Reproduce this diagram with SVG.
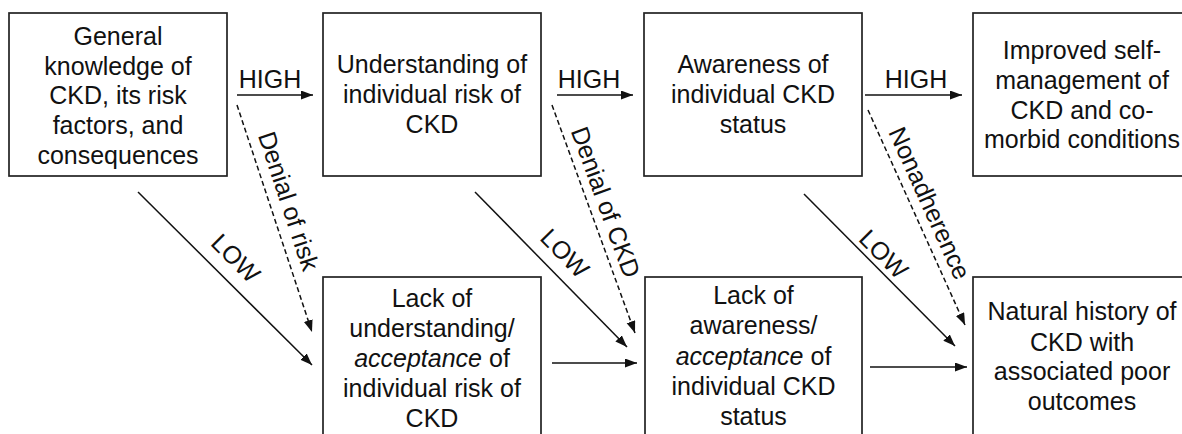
<svg xmlns="http://www.w3.org/2000/svg" width="1182" height="434" viewBox="0 0 1182 434">
<defs>
<marker id="ah" markerUnits="userSpaceOnUse" markerWidth="13" markerHeight="10" refX="12" refY="4.5" orient="auto">
<path d="M0,0 L12,4.5 L0,9 z" fill="#111"/>
</marker>
<style>
.box{fill:#fff;stroke:#222;stroke-width:1.7}
.t{font-family:"Liberation Sans",Arial,sans-serif;font-size:25px;fill:#111;text-anchor:middle}
.ln{stroke:#111;stroke-width:1.5;fill:none;marker-end:url(#ah)}
.dash{stroke-dasharray:5,3}
</style>
</defs>
<rect width="1182" height="434" fill="#fff"/>

<g id="n1">
<rect class="box" x="9" y="13" width="218" height="163"/>
<text class="t" x="118" y="45">General</text>
<text class="t" x="118" y="74.5">knowledge of</text>
<text class="t" x="118" y="104">CKD, its risk</text>
<text class="t" x="118" y="134">factors, and</text>
<text class="t" x="118" y="164">consequences</text>
</g>

<g id="n2">
<rect class="box" x="323" y="13" width="218" height="163"/>
<text class="t" x="432" y="73">Understanding of</text>
<text class="t" x="432" y="103">individual risk of</text>
<text class="t" x="432" y="133">CKD</text>
</g>

<g id="n3">
<rect class="box" x="644" y="13" width="218" height="163"/>
<text class="t" x="753" y="73">Awareness of</text>
<text class="t" x="753" y="103">individual CKD</text>
<text class="t" x="753" y="133">status</text>
</g>

<g id="n4">
<rect class="box" x="973" y="13" width="218" height="163"/>
<text class="t" x="1082" y="59">Improved self-</text>
<text class="t" x="1082" y="89">management of</text>
<text class="t" x="1082" y="118.5">CKD and co-</text>
<text class="t" x="1082" y="148">morbid conditions</text>
</g>

<g id="n5">
<rect class="box" x="323" y="277" width="218" height="170"/>
<text class="t" x="432" y="306.5">Lack of</text>
<text class="t" x="432" y="336.5">understanding/</text>
<text class="t" x="432" y="366.5"><tspan font-style="italic">acceptance</tspan> of</text>
<text class="t" x="432" y="396.5">individual risk of</text>
<text class="t" x="432" y="426.5">CKD</text>
</g>

<g id="n6">
<rect class="box" x="645" y="277" width="217" height="170"/>
<text class="t" x="753.5" y="304">Lack of</text>
<text class="t" x="753.5" y="334">awareness/</text>
<text class="t" x="753.5" y="364.5"><tspan font-style="italic">acceptance</tspan> of</text>
<text class="t" x="753.5" y="394.5">individual CKD</text>
<text class="t" x="753.5" y="425">status</text>
</g>

<g id="n7">
<rect class="box" x="973" y="277" width="218" height="170"/>
<text class="t" x="1082" y="320">Natural history of</text>
<text class="t" x="1082" y="350.5">CKD with</text>
<text class="t" x="1082" y="380">associated poor</text>
<text class="t" x="1082" y="410">outcomes</text>
</g>

<g id="connectors">
<line class="ln" x1="237" y1="95" x2="313" y2="95"/>
<line class="ln" x1="557" y1="95" x2="633" y2="95"/>
<line class="ln" x1="865" y1="95" x2="962" y2="95"/>
<line class="ln" x1="138" y1="192" x2="312" y2="365"/>
<line class="ln" x1="475" y1="192" x2="627" y2="347"/>
<line class="ln" x1="804" y1="194" x2="955" y2="346"/>
<line class="ln dash" x1="237" y1="105" x2="312" y2="332"/>
<line class="ln dash" x1="552" y1="105" x2="635" y2="333"/>
<line class="ln dash" x1="868" y1="110" x2="965" y2="325"/>
<line class="ln" x1="552" y1="363" x2="637" y2="363"/>
<line class="ln" x1="870" y1="367" x2="967" y2="367"/>
<text class="t" x="270" y="88">HIGH</text>
<text class="t" x="589" y="88">HIGH</text>
<text class="t" x="916" y="88">HIGH</text>
<text class="t" transform="translate(236,258) rotate(45)" y="9">LOW</text>
<text class="t" transform="translate(565,253) rotate(45.6)" y="9">LOW</text>
<text class="t" transform="translate(884,254) rotate(45.3)" y="9">LOW</text>
<text class="t" transform="translate(289,201) rotate(71.7)" y="9">Denial of risk</text>
<text class="t" transform="translate(606,202) rotate(70)" y="9">Denial of CKD</text>
<text class="t" transform="translate(930,203) rotate(65.7)" y="9">Nonadherence</text>
</g>
</svg>
